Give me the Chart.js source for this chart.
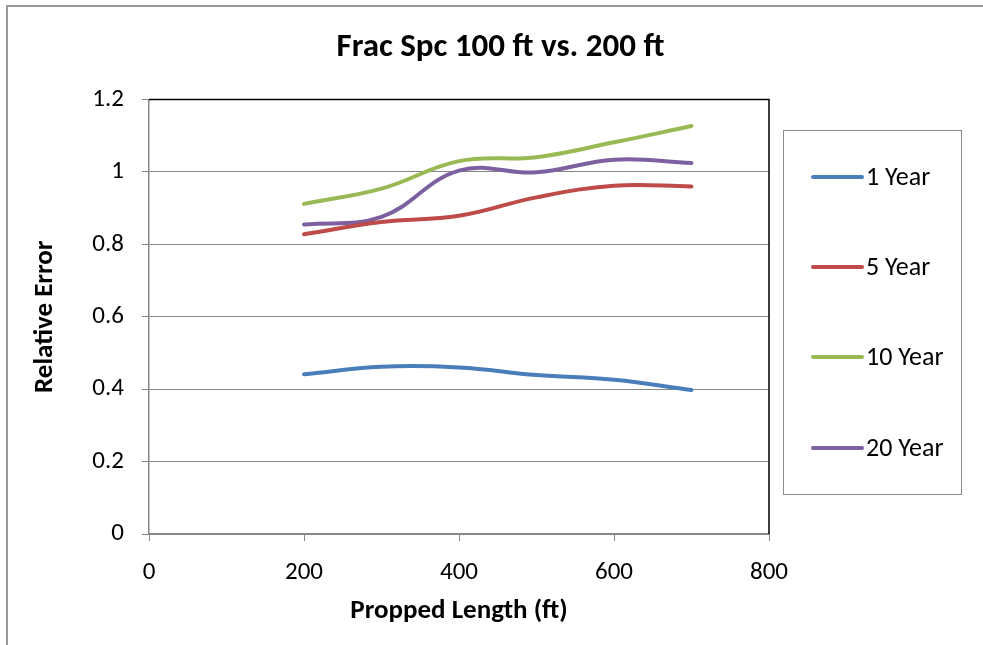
<!DOCTYPE html>
<html>
<head>
<meta charset="utf-8">
<script src="https://cdn.jsdelivr.net/npm/chart.js@4/dist/chart.umd.min.js"></script>
<style>
  html, body { margin: 0; padding: 0; background: #ffffff; }
  #wrap { position: relative; width: 983px; height: 645px; }
  canvas { display: block; }
</style>
</head>
<body>
<div id="wrap"><canvas id="c" width="983" height="645"></canvas></div>
<script>
// ---- data ----
const xValues = [200, 300, 400, 500, 600, 700];
const seriesNames = ['1 Year', '5 Year', '10 Year', '20 Year'];
const year1  = [0.441, 0.462, 0.460, 0.439, 0.426, 0.398];
const year5  = [0.828, 0.862, 0.879, 0.930, 0.962, 0.960];
const year10 = [0.912, 0.954, 1.030, 1.041, 1.082, 1.127];
const year20 = [0.855, 0.876, 1.004, 0.999, 1.034, 1.025];
const seriesColors = ['#4A7EBB', '#BE4B48', '#98B954', '#7D60A0'];
const xTicks = [0, 200, 400, 600, 800];
const yTicks = [0, 0.2, 0.4, 0.6, 0.8, 1, 1.2];
const yTickLabels = ['0', '0.2', '0.4', '0.6', '0.8', '1', '1.2'];

const FONT = "Carlito, Calibri, 'Open Sans', Lato, sans-serif";
const allSeries = [year1, year5, year10, year20];

const datasets = allSeries.map((vals, i) => ({
  label: seriesNames[i],
  data: xValues.map((x, j) => ({ x: x, y: vals[j] })),
  borderColor: seriesColors[i],
  backgroundColor: seriesColors[i],
  borderWidth: 4,
  pointRadius: 0,
  tension: 0.4,
  fill: false,
  borderCapStyle: 'round'
}));

// frame, plot border and legend
const decor = {
  id: 'decor',
  beforeDraw(chart) {
    const ctx = chart.ctx;
    ctx.save();
    ctx.fillStyle = '#ffffff';
    ctx.fillRect(0, 0, chart.width, chart.height);
    ctx.strokeStyle = '#9a9a9a';
    ctx.lineWidth = 2;
    ctx.beginPath();
    ctx.moveTo(7, chart.height);
    ctx.lineTo(7, 6);
    ctx.lineTo(chart.width, 6);
    ctx.stroke();
    ctx.restore();
  },
  afterDatasetsDraw(chart) {
    const ctx = chart.ctx;
    const a = chart.chartArea;
    ctx.save();
    ctx.strokeStyle = '#000000';
    ctx.lineWidth = 1.5;
    ctx.beginPath();
    ctx.moveTo(a.left, a.top);
    ctx.lineTo(a.right, a.top);
    ctx.lineTo(a.right, a.bottom);
    ctx.stroke();

    // legend
    const lx = 783, ly = 130, lw = 178, lh = 364;
    ctx.strokeStyle = '#8a8a8a';
    ctx.lineWidth = 1;
    ctx.strokeRect(lx + 0.5, ly + 0.5, lw, lh);
    const rows = [177, 267, 357, 448];
    ctx.font = '26px ' + FONT;
    ctx.textBaseline = 'middle';
    ctx.textAlign = 'left';
    chart.data.datasets.forEach((ds, i) => {
      ctx.strokeStyle = ds.borderColor;
      ctx.lineWidth = 4;
      ctx.lineCap = 'round';
      ctx.beginPath();
      ctx.moveTo(813, rows[i]);
      ctx.lineTo(862, rows[i]);
      ctx.stroke();
      ctx.fillStyle = '#000000';
      ctx.fillText(ds.label, 866, rows[i] + 1);
    });
    ctx.restore();
  }
};

new Chart(document.getElementById('c'), {
  type: 'line',
  data: { datasets: datasets },
  plugins: [decor],
  options: {
    responsive: false,
    animation: false,
    devicePixelRatio: 1,
    layout: { padding: { left: 18, top: 0, right: 0, bottom: 0 } },
    plugins: {
      legend: { display: false },
      tooltip: { enabled: false },
      title: {
        display: true,
        text: 'Frac Spc 100 ft vs. 200 ft',
        color: '#000000',
        font: { family: FONT, size: 33, weight: 'bold', lineHeight: 1.2 },
        padding: { top: 28, bottom: 32 }
      }
    },
    scales: {
      x: {
        type: 'linear',
        min: 0, max: 800,
        afterBuildTicks(scale) { scale.ticks = xTicks.map(v => ({ value: v })); },
        afterFit(scale) { scale.height = 111; },
        ticks: { color: '#000000', font: { family: FONT, size: 25 }, padding: 17, maxRotation: 0 },
        grid: { drawOnChartArea: false, drawTicks: true, tickLength: 7, color: '#868686', lineWidth: 1 },
        border: { display: true, color: '#868686', width: 1.5 },
        title: {
          display: true,
          text: 'Propped Length (ft)',
          color: '#000000',
          font: { family: FONT, size: 27, weight: 'bold', lineHeight: 1.2 },
          padding: { top: 0, bottom: 18 }
        }
      },
      y: {
        type: 'linear',
        min: 0, max: 1.2,
        afterBuildTicks(scale) { scale.ticks = yTicks.map(v => ({ value: v })); },
        afterFit(scale) { scale.width = 131; },
        ticks: {
          color: '#000000', font: { family: FONT, size: 25 }, padding: 18,
          callback: (v, i) => yTickLabels[i]
        },
        grid: { drawOnChartArea: true, drawTicks: true, tickLength: 7, color: '#868686', lineWidth: 1 },
        border: { display: true, color: '#868686', width: 1.5 },
        title: {
          display: true,
          text: 'Relative Error',
          color: '#000000',
          font: { family: FONT, size: 27, weight: 'bold', lineHeight: 1.2 },
          padding: { top: 11, bottom: 0 }
        }
      },
      spacer: {
        type: 'linear',
        position: 'right',
        display: true,
        afterFit(scale) { scale.width = 214; },
        ticks: { display: false },
        grid: { display: false, drawTicks: false },
        border: { display: false },
        title: { display: false }
      }
    }
  }
});
</script>
</body>
</html>
